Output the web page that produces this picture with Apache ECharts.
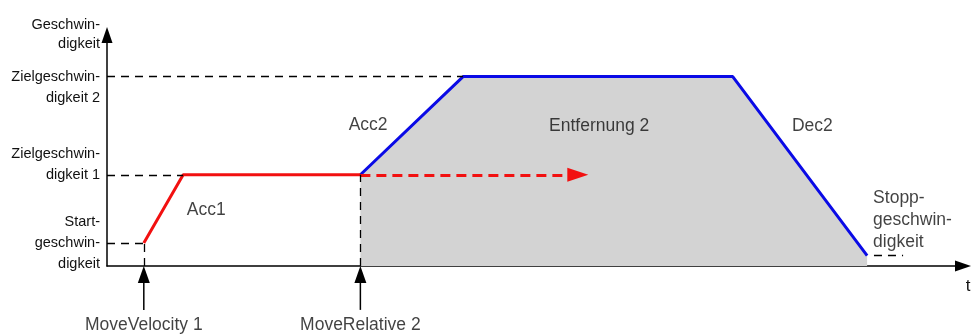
<!DOCTYPE html>
<html>
<head>
<meta charset="utf-8">
<script src="https://cdn.jsdelivr.net/npm/echarts@6/dist/echarts.min.js"></script>
<style>
  html, body { margin: 0; padding: 0; background: #fff; }
  #chart { width: 978px; height: 335px; }
</style>
</head>
<body>
<div id="chart"></div>
<script>
// time axis 0..100, velocity axis 0..100 (arbitrary units)
const redRamp = [[4.3, 10], [8.9, 39.5], [29.6, 39.5]];
const blueProfile = [[29.6, 39.5], [41.6, 82], [73.1, 82], [88.8, 4.5]];
const redDashed = [[29.6, 39.5], [55.0, 39.5]];

const levelValues = [10, 39.5, 82];
const levelLabels = {
  10: "Start-\ngeschwin-\ndigkeit",
  39.5: "Zielgeschwin-\ndigkeit 1\n ",
  82: " \nZielgeschwin-\ndigkeit 2"
};

// black dashed helper lines [from, to]
const guideLines = [
  [[0, 10], [4.3, 10]],
  [[0, 39.5], [8.9, 39.5]],
  [[0, 82], [41.6, 82]],
  [[4.3, 0], [4.3, 10]],
  [[29.6, 0], [29.6, 39.5]],
  [[89.6, 4.5], [93, 4.5]]
];

// command arrows below the time axis (shaft bottom, arrow head centre)
const commandArrows = [
  [[4.3, -19], [4.3, -3.7]],
  [[29.6, -19], [29.6, -3.7]]
];

const notes = [
  { name: "Acc1", value: [11.6, 24.2] },
  { name: "Acc2", value: [30.5, 61] },
  { name: "Entfernung 2", value: [57.5, 60.6] },
  { name: "Dec2", value: [82.4, 60.6] },
  { name: "Stopp-\ngeschwin-\ndigkeit", value: [89.5, 20], align: "left" },
  { name: "MoveVelocity 1", value: [4.3, -25.5] },
  { name: "MoveRelative 2", value: [29.6, -25.5] }
];

const font = "'Liberation Sans', Arial, sans-serif";
const textColor = "#111";

const chart = echarts.init(document.getElementById("chart"));

const arrowSeries = commandArrows.map(a => ({
  type: "line",
  clip: false,
  silent: true,
  data: [
    { value: a[0], symbol: "none" },
    { value: a[1], symbol: "triangle", symbolSize: [12, 17] }
  ],
  showSymbol: true,
  itemStyle: { color: "#000" },
  lineStyle: { color: "#000", width: 1.5 },
  z: 5
}));

const option = {
  animation: false,
  backgroundColor: "#fff",
  grid: {
    left: 107,
    right: 15,
    top: 35,
    bottom: 69,
    containLabel: false,
    outerBoundsMode: "none"
  },
  xAxis: {
    type: "value",
    min: 0,
    max: 100,
    name: "t",
    nameLocation: "end",
    nameGap: 5,
    nameMoveOverlap: false,
    nameTextStyle: {
      color: textColor,
      fontSize: 17,
      fontFamily: font,
      align: "center",
      verticalAlign: "top",
      padding: [12, 0, 0, 0]
    },
    axisLine: {
      onZero: false,
      symbol: ["none", "triangle"],
      symbolSize: [11, 16],
      lineStyle: { color: "#000", width: 1.5 }
    },
    axisTick: { show: false },
    axisLabel: { show: false },
    splitLine: { show: false }
  },
  yAxis: {
    type: "value",
    min: 0,
    max: 100,
    name: "Geschwin-\ndigkeit",
    nameLocation: "end",
    nameGap: 1,
    nameMoveOverlap: false,
    nameTextStyle: {
      color: textColor,
      fontSize: 14.5,
      fontFamily: font,
      align: "right",
      verticalAlign: "middle",
      lineHeight: 19,
      padding: [0, 7, 0, 0]
    },
    axisLine: {
      onZero: false,
      symbol: ["none", "triangle"],
      symbolSize: [11, 16],
      lineStyle: { color: "#000", width: 1.5 }
    },
    axisTick: { show: false },
    splitLine: { show: false },
    axisLabel: {
      customValues: levelValues,
      formatter: v => levelLabels[v] || "",
      color: textColor,
      fontSize: 14.5,
      fontFamily: font,
      lineHeight: 21,
      margin: 7,
      align: "right"
    }
  },
  series: [
    {
      type: "line",
      data: blueProfile,
      symbol: "none",
      clip: false,
      lineStyle: { color: "#0a0ae6", width: 3 },
      areaStyle: { color: "#d3d3d3", opacity: 1 },
      z: 2
    },
    {
      type: "line",
      data: redRamp,
      symbol: "none",
      clip: false,
      lineStyle: { color: "#f21010", width: 3 },
      z: 3
    },
    {
      type: "line",
      data: [],
      clip: false,
      markLine: {
        silent: true,
        symbol: ["none", "triangle"],
        symbolSize: [14, 21],
        label: { show: false },
        lineStyle: { color: "#f21010", width: 3, type: [10, 6] },
        data: [[{ coord: redDashed[0] }, { coord: redDashed[1] }]]
      },
      z: 4
    },
    {
      type: "line",
      data: [],
      clip: false,
      markLine: {
        silent: true,
        symbol: "none",
        label: { show: false },
        lineStyle: { color: "#000", width: 1.3, type: [8, 6] },
        data: guideLines.map(l => [{ coord: l[0] }, { coord: l[1] }])
      },
      z: 1
    },
    ...arrowSeries,
    {
      type: "scatter",
      symbolSize: 0,
      clip: false,
      silent: true,
      data: notes.map(n => ({
        name: n.name,
        value: n.value,
        label: { align: n.align || "center" }
      })),
      label: {
        show: true,
        position: "inside",
        formatter: p => p.name,
        color: textColor,
        fontSize: 17.5,
        fontFamily: font,
        lineHeight: 22
      },
      z: 6
    }
  ]
};

chart.setOption(option);
</script>
</body>
</html>
